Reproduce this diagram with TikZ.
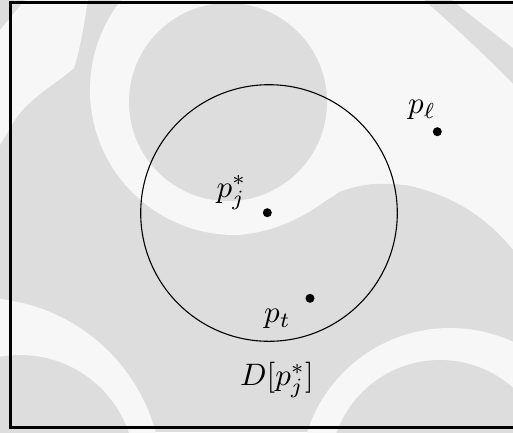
\documentclass[tikz,border=0pt]{standalone}
\definecolor{bgGray}{RGB}{221,221,221}
\definecolor{bgWhite}{RGB}{247,247,247}
\begin{document}
\begin{tikzpicture}[x=1pt,y=-1pt,
  dotnode/.style={circle,fill=black,inner sep=0pt,minimum size=9pt},
  lab/.style={inner sep=0pt,scale=3.1},
  borderframe/.style={draw=black,line width=3pt},
  diskline/.style={draw=black,line width=1.1pt,circle,inner sep=0pt,minimum size=256.6pt}]
\clip (0,0) rectangle (513,432);
% background watermark pattern
\fill[bgGray] (0,0) rectangle (513,432);
\fill[bgWhite] (25,0) -- (88,0) .. controls (84,25) and (80,50) .. (74,68)
  .. controls (55,85) and (25,100) .. (12,125)
  .. controls (8,132) and (4,138) .. (0,145) -- (0,30) -- cycle;
\fill[bgWhite] (452,0) -- (513,0) -- (513,48) .. controls (490,30) and (470,15) .. cycle;
\fill[bgWhite] (200,0) -- (424,0) .. controls (452,25) and (485,55) .. (513,84) -- (513,250)
  .. controls (490,222) and (460,198) .. (410,186)
  .. controls (372,180) and (338,186) .. (305,212) -- (250,150) -- cycle;
\fill[bgWhite] (235,90) circle[radius=145];
\fill[bgGray] (513,250) .. controls (490,222) and (460,198) .. (410,186)
  .. controls (370,180) and (345,186) .. (320,205)
  .. controls (295,222) and (270,232) .. (240,235) -- (240,300) -- (513,300) -- cycle;
\fill[bgGray] (228,102) circle[radius=99];
\fill[bgWhite] (-20,480) circle[radius=182];
\fill[bgGray] (20,470) circle[radius=115];
\fill[bgWhite] (450,478) circle[radius=150];
\fill[bgGray] (440,470) circle[radius=110];
% frame
\draw[borderframe] (10.8,2) rectangle (540,427.7);
% disk
\node[diskline] (disk) at (269,213) {};
% points
\node[dotnode] (pj) at (267.3,212.7) {};
\node[dotnode] (pt) at (310,298.3) {};
\node[dotnode] (pl) at (437.3,131.7) {};
% labels
\node[lab] (pjlab) at (231.5,192.5) {$p_j^*$};
\node[lab] (ptlab) at (277.5,319) {$p_t$};
\node[lab] (pllab) at (422,110) {$p_\ell$};
\node[lab] (dlab) at (277,380) {$D[p_j^*]$};
\end{tikzpicture}
\end{document}
